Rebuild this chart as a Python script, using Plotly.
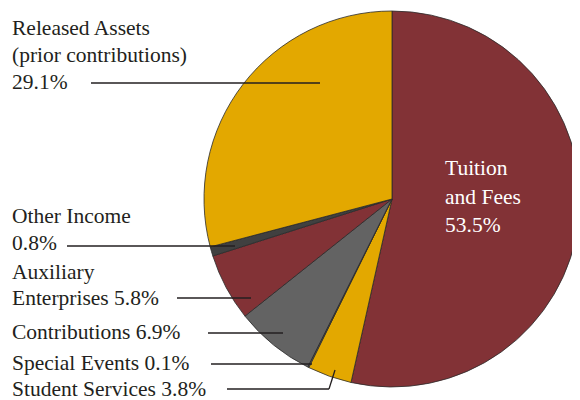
import plotly.graph_objects as go

# Data
categories = ["Tuition and Fees", "Student Services", "Special Events", "Contributions",
              "Auxiliary Enterprises", "Other Income", "Released Assets (prior contributions)"]
values = [53.5, 3.8, 0.1, 6.9, 5.8, 0.8, 29.1]
colors = ["#823236", "#E3A800", "#636363", "#636363", "#823236", "#404040", "#E3A800"]

# The page body has an 8px margin, so the figure is made 8px smaller and
# coordinates are expressed in window pixels shifted by that offset.
OFF = 8
W, H = 580 - OFF, 400 - OFF
def px(x): return (x - OFF) / W
def py(y): return 1 - (y - OFF) / H

fig = go.Figure(go.Pie(
    labels=categories, values=values, sort=False, direction="clockwise", rotation=0,
    marker=dict(colors=colors, line=dict(color="#2b2b2b", width=0.8)),
    textinfo="none", hoverinfo="label+percent", showlegend=False,
    domain=dict(x=[px(204), 1], y=[py(388), py(10)]),
))

FONT = dict(family="Liberation Serif, Times New Roman, serif", size=21.5, color="#231f20")

label_lines = [
    ("Released Assets", 10, 28),
    ("(prior contributions)", 10, 55),
    (f"{values[6]}%", 10, 82),
    ("Other Income", 10, 216),
    (f"{values[5]}%", 10, 243),
    ("Auxiliary", 10, 272),
    (f"Enterprises {values[4]}%", 10, 298),
    (f"Contributions {values[3]}%", 10, 332),
    (f"Special Events {values[2]}%", 10, 363),
    (f"Student Services {values[1]}%", 10, 389),
]
annotations = []
for t, x, y in label_lines:
    annotations.append(dict(text=t, x=px(x), y=py(y), xref="paper", yref="paper",
                            xanchor="left", yanchor="middle", showarrow=False, font=FONT))
for t, y in [("Tuition", 168), ("and Fees", 197), (f"{values[0]}%", 225)]:
    annotations.append(dict(text=t, x=px(443), y=py(y), xref="paper", yref="paper",
                            xanchor="left", yanchor="middle", showarrow=False,
                            font=dict(FONT, color="white")))

leaders = [
    [(91, 83), (320, 83)],
    [(67, 246), (235, 246)],
    [(177, 298), (251, 298)],
    [(208, 333), (283, 333)],
    [(211, 364), (312, 364)],
    [(227, 389), (329, 389)],
    [(329, 389), (335, 370)],
]
shapes = []
for (x0, y0), (x1, y1) in leaders:
    shapes.append(dict(type="line", xref="paper", yref="paper",
                       x0=px(x0), y0=py(y0), x1=px(x1), y1=py(y1),
                       line=dict(color="#231f20", width=1.3)))

fig.update_layout(width=W, height=H, margin=dict(l=0, r=0, t=0, b=0),
                  paper_bgcolor="white", plot_bgcolor="white",
                  annotations=annotations, shapes=shapes)
fig.write_html("out.html")
